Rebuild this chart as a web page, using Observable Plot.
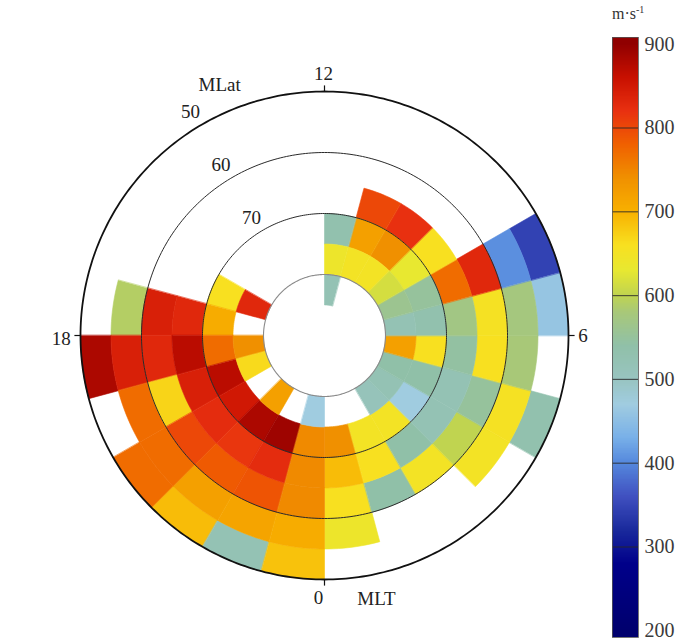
<!DOCTYPE html>
<html><head><meta charset="utf-8">
<script src="https://cdn.jsdelivr.net/npm/d3@7"></script>
<script src="https://cdn.jsdelivr.net/npm/@observablehq/plot@0.6"></script>
<style>
body{margin:0;background:#fff;}
#wrap{position:relative;width:689px;height:642px;overflow:hidden;font-family:"Liberation Serif","DejaVu Serif",serif;color:#222;}
#polar{position:absolute;left:0;top:0;}
#bar{position:absolute;left:600px;top:0;}
#unit{position:absolute;left:612px;top:5px;font-size:16px;line-height:18px;color:#333;}
#unit sup{font-size:10px;vertical-align:6px;line-height:0;}
</style></head><body>
<div id="wrap"><div id="polar"></div><div id="bar"></div><div id="unit">m·s<sup>-1</sup></div></div>
<script>
// MLT hour bins (start hour of each 1-h bin)
const mltHours = [0,1,2,3,4,5,6,7,8,9,10,11,12,13,14,15,16,17,18,19,20,21,22,23];
// MLat bands (lower edge, 5 deg wide)
const latBands = [50,55,60,65,70,75,80];
// values (m/s) per band, indexed by MLT hour; null = no data
const v50 = [null,null,null,null,530,null,460,345,null,null,null,null,null,null,null,null,null,null,880,null,770,690,520,685];
const v55 = [640,null,null,650,655,580,575,405,null,null,null,null,null,null,null,null,null,590,840,770,770,720,715,705];
const v60 = [660,540,650,600,550,660,655,830,null,null,null,null,null,null,null,null,null,840,830,670,800,785,790,745];
const v65 = [690,660,540,520,520,545,570,770,660,820,800,null,null,null,null,null,null,830,870,840,825,815,825,745];
const v70 = [740,650,650,470,540,660,530,550,630,740,720,530,null,null,null,null,660,705,770,870,850,880,890,745];
const v75 = [null,null,510,520,540,720,520,560,615,650,650,640,null,null,null,null,830,null,740,665,null,720,null,470];
const v80 = [null,null,null,null,null,null,null,null,null,null,null,520,null,null,null,null,null,null,null,null,null,null,null,null];
const bandValues = [v50,v55,v60,v65,v70,v75,v80];

const hourTicks = [0,6,12,18];
const latCircles = [50,60,70,80];
const latLabels = [50,60,70];
const colorTicks = [200,300,400,500,600,700,800,900];
const colorLines = [300,400,500,600,700,800];
const colorDomain = [200,280,320,360,400,430,470,500,540,580,600,630,660,700,740,780,820,860,900];
const colorRange  = ["#00006e","#00008a","#1a2a9c","#4050c0","#5588dd","#78b0e8","#a0cce0","#98c4c0","#90c0a8","#a8c878","#c0d450","#e8e830","#f8e020","#f8b000","#f09000","#f06000","#e83010","#c81000","#900000"];

const colorOpts = {type:"linear", domain: colorDomain, range: colorRange, interpolate:"rgb", clamp:true};

function sector(h, lat0, lat1){
  const lon0 = h*15, lon1 = (h+1)*15, n = 12, ring = [];
  for (let i=0;i<=n;i++) ring.push([lon0+(lon1-lon0)*i/n, lat1]);
  for (let i=n;i>=0;i--) ring.push([lon0+(lon1-lon0)*i/n, lat0]);
  ring.push(ring[0]);
  return ring;
}
const cells = [];
latBands.forEach((lat, bi) => {
  mltHours.forEach((h, hi) => {
    const v = bandValues[bi][hi];
    if (v != null) cells.push({type:"Feature", properties:{v}, geometry:{type:"Polygon", coordinates:[sector(h, lat, lat+5)]}});
  });
});
const circle = lat => d3.geoCircle().center([0,90]).radius(90-lat).precision(1)();

const font = {fontFamily:'"Liberation Serif","DejaVu Serif",serif', fontSize:"19px", color:"#222"};

const hourLabel = (h, opts) => Plot.text([h], {x: d=>d*15, y: 50.2, text: d=>String(d), fill:"#222", ...opts});

const polar = Plot.plot({
  width: 600, height: 642,
  marginLeft: 80, marginRight: 32, marginTop: 91, marginBottom: 63,
  projection: {type:"azimuthal-equidistant", rotate:[0,-90], domain: circle(50), clip: false},
  color: colorOpts,
  style: font,
  marks: [
    Plot.geo(cells, {fill: d=>d.properties.v, stroke: d=>d.properties.v, strokeWidth: 0.6}),
    Plot.geo(latCircles.slice(1,3).map(circle), {stroke:"#2a2a2a", strokeWidth:1, fill:"none"}),
    Plot.geo([circle(80)], {stroke:"#8a8a8a", strokeWidth:1.1, fill:"none"}),
    Plot.geo([circle(50)], {stroke:"#111", strokeWidth:1.8, fill:"none"}),
    Plot.link(hourTicks, {x1: d=>d*15, x2: d=>d*15, y1: 50, y2: 49, stroke:"#111", strokeWidth:1.2}),
    hourLabel(12, {dy:-19, dx:-1}),
    hourLabel(0, {dy:20, dx:-6}),
    hourLabel(6, {dx:11, textAnchor:"start"}),
    hourLabel(18, {dx:-11, textAnchor:"end", dy:3}),
    Plot.text(latLabels, {x: 210, y: d=>d, text: d=>String(d), dx:-12, dy:-12, fill:"#222"}),
    Plot.text(["MLat"], {x: 203, y: 50.2, text: d=>d, dx:-10, dy:-27, fill:"#222"}),
    Plot.text(["MLT"], {x: 0, y: 50.2, text: d=>d, dx:52, dy:21, fill:"#222"})
  ]
});
document.getElementById("polar").appendChild(polar);

const ramp = d3.range(192, 908, 1);
const bar = Plot.plot({
  width: 89, height: 642,
  marginLeft: 12, marginRight: 51, marginTop: 37, marginBottom: 5,
  x: {domain:[0,1], axis:null},
  y: {domain:[192,908], axis:"right", ticks: colorTicks, tickSize:0, tickPadding:6, label:null, tickFormat: d=>String(d)},
  color: colorOpts,
  style: {...font, fontSize:"20px", color:"#3a3a3a"},
  marks: [
    Plot.rect(ramp, {x1:0, x2:1, y1: d=>d, y2: d=>d+1.2, fill: d=>d+0.5, shapeRendering:"crispEdges"}),
    Plot.ruleY(colorLines, {stroke:"#2a2a2a", strokeWidth:1.2, strokeOpacity:0.75}),
    Plot.frame({stroke:"#555", strokeWidth:0.8})
  ]
});
document.getElementById("bar").appendChild(bar);
</script></body></html>
